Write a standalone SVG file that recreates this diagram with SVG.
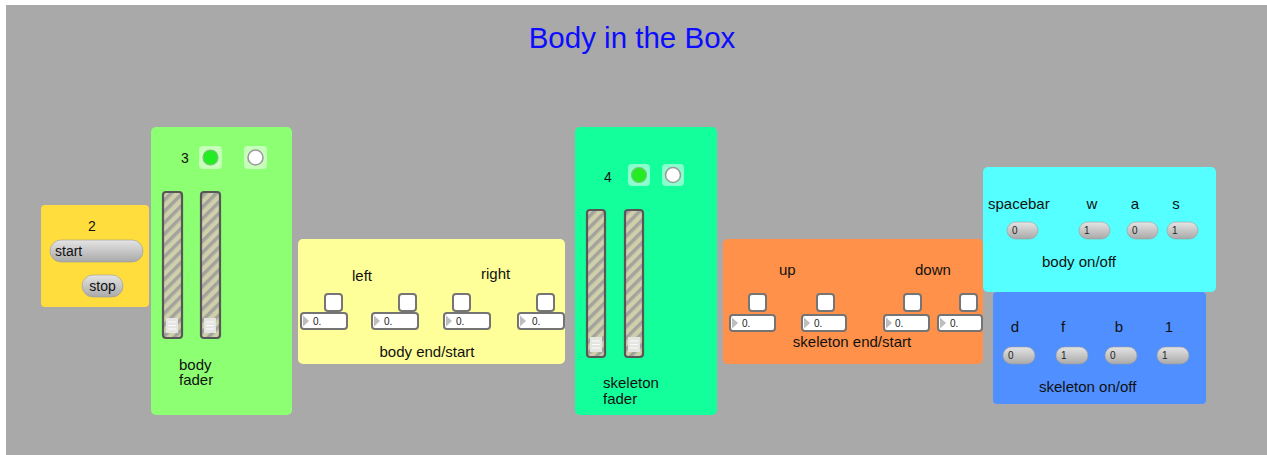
<svg xmlns="http://www.w3.org/2000/svg" width="1267" height="455" viewBox="0 0 1267 455">
  <style>
    text { font-family: "Liberation Sans", Arial, sans-serif; fill: #111; }
    .lbl { font-size: 15px; }
    .mid { text-anchor: middle; }
    .num { font-size: 14px; }
    .small { font-size: 10px; fill: #222; }
    .title { font-size: 29.5px; fill: #0c0cff; text-anchor: middle; }
    .panel { stroke: none; }
    .toggle { fill: #fff; stroke: #757575; stroke-width: 2; }
    .nbox { fill: #fff; stroke: #747474; stroke-width: 2; }
    .tri { fill: #bdbdbd; }
    .pill { fill: url(#pillGrad); stroke: #9a9a9a; stroke-width: 0.6; }
    .slider { fill: url(#stripes); stroke: #575757; stroke-width: 2.2; }
    .knob { fill: #e4e4e0; }
    .grip { stroke: #fbfbfb; stroke-width: 1.2; }
    .ledbox { fill: #ffffff; fill-opacity: 0.5; }
    .ledon { fill: #22ec22; stroke: #7fbf7f; stroke-width: 1.2; }
    .ledoff { fill: #fff; stroke: #9c9c9c; stroke-width: 1.6; }
  </style>
  <defs>
    <linearGradient id="pillGrad" x1="0" y1="0" x2="0" y2="1">
      <stop offset="0" stop-color="#e4e4e4"/>
      <stop offset="1" stop-color="#a9a9a9"/>
    </linearGradient>
    <pattern id="stripes" patternUnits="userSpaceOnUse" width="8" height="8" patternTransform="rotate(45)">
      <rect width="8" height="8" fill="#cfcfaa"/>
      <rect width="3.5" height="8" fill="#a3a39e"/>
    </pattern>
  </defs>

  <!-- canvas -->
  <rect width="1267" height="455" fill="#fff"/>
  <rect x="6" y="5" width="1261" height="450" fill="#a9a9a9"/>

  <text class="title" x="632" y="48">Body in the Box</text>

  <g id="connectors"/>

  <!-- transport -->
  <g id="transport">
    <rect class="panel" x="41" y="205" width="108" height="102" rx="4" fill="#ffdd3c"/>
    <text class="num mid" x="92" y="231">2</text>
    <rect class="pill" x="50" y="240" width="93" height="22" rx="11"/>
    <text class="num" x="55" y="256">start</text>
    <rect class="pill" x="82" y="275" width="41" height="22" rx="11"/>
    <text class="num mid" x="102.5" y="291">stop</text>
  </g>

  <!-- body fader -->
  <g id="body-fader">
    <rect class="panel" x="151" y="127" width="141" height="288" rx="5" fill="#8dff72"/>
    <text class="num mid" x="185" y="163">3</text>
    <rect class="ledbox" x="199" y="146" width="23" height="23" rx="4"/>
    <circle class="ledon" cx="210.5" cy="157.5" r="7.5"/>
    <rect class="ledbox" x="244" y="146" width="23" height="23" rx="4"/>
    <circle class="ledoff" cx="255.5" cy="157.5" r="7.5"/>
    <rect class="slider" x="163" y="192" width="19" height="146" rx="3"/>
    <rect class="knob" x="166" y="318" width="12" height="15"/>
    <path class="grip" d="M168 322h8M168 325.5h8M168 329h8"/>
    <rect class="slider" x="201" y="192" width="19" height="146" rx="3"/>
    <rect class="knob" x="204" y="318" width="12" height="15"/>
    <path class="grip" d="M206 322h8M206 325.5h8M206 329h8"/>
    <text class="lbl" x="179" y="370">body</text>
    <text class="lbl" x="179" y="385">fader</text>
  </g>

  <!-- body end/start -->
  <g id="body-end-start">
    <rect class="panel" x="298" y="239" width="267" height="125" rx="5" fill="#ffff99"/>
    <text class="lbl" x="352" y="281">left</text>
    <text class="lbl" x="481" y="279">right</text>
    <rect class="toggle" x="325" y="294" width="17" height="17" rx="3"/>
    <rect class="toggle" x="399" y="294" width="17" height="17" rx="3"/>
    <rect class="toggle" x="453" y="294" width="17" height="17" rx="3"/>
    <rect class="toggle" x="537" y="294" width="17" height="17" rx="3"/>
    <rect class="nbox" x="301" y="313" width="46" height="16" rx="3"/>
    <path class="tri" d="M303 315.5v11l6-5.5z"/>
    <text class="small" x="313" y="325">0.</text>
    <rect class="nbox" x="372" y="313" width="46" height="16" rx="3"/>
    <path class="tri" d="M374 315.5v11l6-5.5z"/>
    <text class="small" x="384" y="325">0.</text>
    <rect class="nbox" x="444" y="313" width="46" height="16" rx="3"/>
    <path class="tri" d="M446 315.5v11l6-5.5z"/>
    <text class="small" x="456" y="325">0.</text>
    <rect class="nbox" x="518" y="313" width="46" height="16" rx="3"/>
    <path class="tri" d="M520 315.5v11l6-5.5z"/>
    <text class="small" x="532" y="325">0.</text>
    <text class="lbl mid" x="427" y="357">body end/start</text>
  </g>

  <!-- skeleton fader -->
  <g id="skeleton-fader">
    <rect class="panel" x="575" y="127" width="142" height="288" rx="5" fill="#12ff9c"/>
    <text class="num mid" x="608" y="182">4</text>
    <rect class="ledbox" x="628" y="164" width="22" height="22" rx="4"/>
    <circle class="ledon" cx="639" cy="175" r="7.5"/>
    <rect class="ledbox" x="662" y="164" width="22" height="22" rx="4"/>
    <circle class="ledoff" cx="673" cy="175" r="7.5"/>
    <rect class="slider" x="587" y="210" width="18" height="147" rx="3"/>
    <rect class="knob" x="590" y="337" width="12" height="15"/>
    <path class="grip" d="M592 341h8M592 344.5h8M592 348h8"/>
    <rect class="slider" x="625" y="210" width="18" height="147" rx="3"/>
    <rect class="knob" x="628" y="337" width="12" height="15"/>
    <path class="grip" d="M630 341h8M630 344.5h8M630 348h8"/>
    <text class="lbl" x="603" y="388">skeleton</text>
    <text class="lbl" x="603" y="404">fader</text>
  </g>

  <!-- skeleton end/start -->
  <g id="skeleton-end-start">
    <rect class="panel" x="723" y="239" width="260" height="125" rx="5" fill="#ff914a"/>
    <text class="lbl" x="779" y="275">up</text>
    <text class="lbl" x="915" y="275">down</text>
    <rect class="toggle" x="749" y="294" width="17" height="17" rx="3"/>
    <rect class="toggle" x="817" y="294" width="17" height="17" rx="3"/>
    <rect class="toggle" x="904" y="294" width="17" height="17" rx="3"/>
    <rect class="toggle" x="960" y="294" width="17" height="17" rx="3"/>
    <rect class="nbox" x="730" y="315" width="45" height="16" rx="3"/>
    <path class="tri" d="M732 317.5v11l6-5.5z"/>
    <text class="small" x="742" y="327">0.</text>
    <rect class="nbox" x="802" y="315" width="44" height="16" rx="3"/>
    <path class="tri" d="M804 317.5v11l6-5.5z"/>
    <text class="small" x="814" y="327">0.</text>
    <rect class="nbox" x="884" y="315" width="45" height="16" rx="3"/>
    <path class="tri" d="M886 317.5v11l6-5.5z"/>
    <text class="small" x="895" y="327">0.</text>
    <rect class="nbox" x="938" y="315" width="44" height="16" rx="3"/>
    <path class="tri" d="M940 317.5v11l6-5.5z"/>
    <text class="small" x="950" y="327">0.</text>
    <text class="lbl mid" x="852" y="347">skeleton end/start</text>
  </g>

  <!-- body on/off keys -->
  <g id="body-on-off">
    <rect class="panel" x="983" y="167" width="233" height="125" rx="5" fill="#55ffff"/>
    <text class="lbl" x="988" y="209">spacebar</text>
    <text class="lbl mid" x="1092" y="209">w</text>
    <text class="lbl mid" x="1135" y="209">a</text>
    <text class="lbl mid" x="1176" y="209">s</text>
    <rect class="pill" x="1007" y="222" width="31" height="17" rx="8.5"/>
    <text class="small" x="1012" y="234">0</text>
    <rect class="pill" x="1079" y="222" width="31" height="17" rx="8.5"/>
    <text class="small" x="1084" y="234">1</text>
    <rect class="pill" x="1127" y="222" width="31" height="17" rx="8.5"/>
    <text class="small" x="1132" y="234">0</text>
    <rect class="pill" x="1167" y="222" width="31" height="17" rx="8.5"/>
    <text class="small" x="1172" y="234">1</text>
    <text class="lbl" x="1042" y="267">body on/off</text>
  </g>

  <!-- skeleton on/off keys -->
  <g id="skeleton-on-off">
    <rect class="panel" x="993" y="292" width="213" height="112" rx="4" fill="#4f8fff"/>
    <text class="lbl mid" x="1015" y="332">d</text>
    <text class="lbl mid" x="1063" y="332">f</text>
    <text class="lbl mid" x="1119" y="332">b</text>
    <text class="lbl mid" x="1169" y="332">1</text>
    <rect class="pill" x="1003" y="347" width="32" height="17" rx="8.5"/>
    <text class="small" x="1008" y="359">0</text>
    <rect class="pill" x="1056" y="347" width="32" height="17" rx="8.5"/>
    <text class="small" x="1061" y="359">1</text>
    <rect class="pill" x="1105" y="347" width="32" height="17" rx="8.5"/>
    <text class="small" x="1110" y="359">0</text>
    <rect class="pill" x="1157" y="347" width="32" height="17" rx="8.5"/>
    <text class="small" x="1162" y="359">1</text>
    <text class="lbl" x="1039" y="392">skeleton on/off</text>
  </g>
</svg>
